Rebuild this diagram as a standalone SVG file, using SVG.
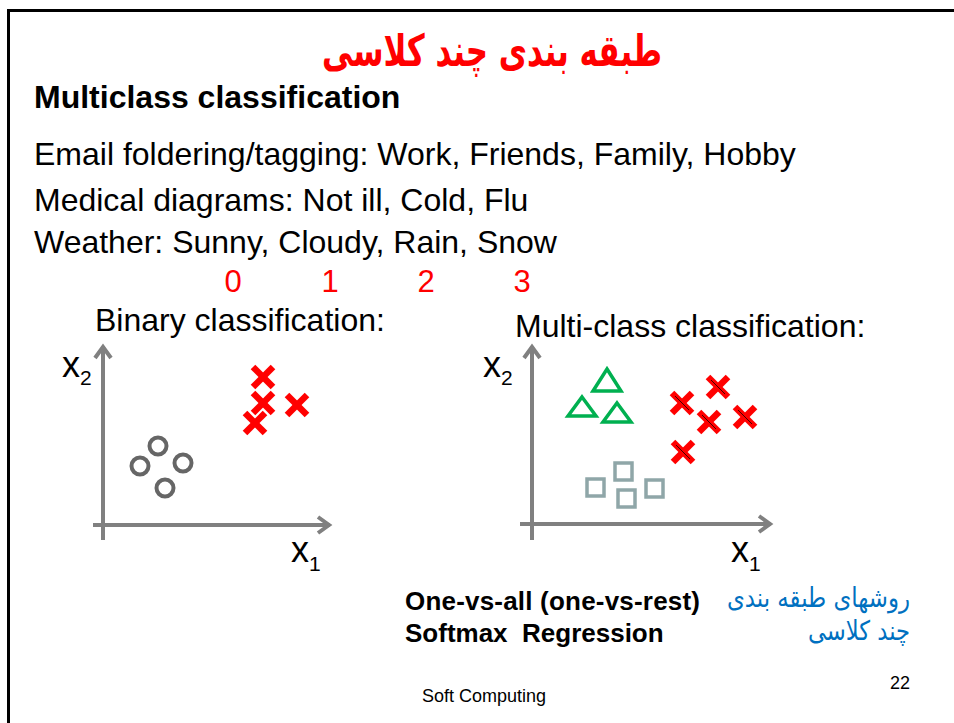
<svg xmlns="http://www.w3.org/2000/svg" width="954" height="723" viewBox="0 0 954 723">
<style>
.t{font-family:"Liberation Sans",Arial,sans-serif;fill:#000}
.fa{font-family:"DejaVu Sans","Noto Sans",sans-serif}
.ax{stroke:#808080;stroke-width:4;fill:none}
.ah{stroke:#808080;stroke-width:4;fill:none;stroke-linecap:butt}
.circ{fill:none;stroke:#666;stroke-width:4}
.tri{fill:none;stroke:#00b050;stroke-width:3.5}
.sq{fill:none;stroke:#8fa6a8;stroke-width:3.5}
.cross{stroke:#ff0000;stroke-width:6.5;stroke-linecap:butt}
.thin{stroke:#400;stroke-width:1}
</style>
<defs>
<g id="xm"><line class="cross" x1="-10" y1="-10" x2="10" y2="10"/><line class="cross" x1="10" y1="-10" x2="-10" y2="10"/></g>
<g id="xm2"><line class="cross" x1="-10" y1="-10" x2="10" y2="10"/><line class="cross" x1="10" y1="-10" x2="-10" y2="10"/><line class="thin" x1="-7" y1="-7" x2="7" y2="7"/></g>
</defs>
<rect width="954" height="723" fill="#fff"/>
<path d="M8.5 723 V10.5 H954" fill="none" stroke="#000" stroke-width="3"/>

<g id="title">
<text class="fa" x="492" y="66" font-size="44" font-weight="bold" fill="#ff0000" text-anchor="middle" direction="rtl" textLength="340" lengthAdjust="spacingAndGlyphs">طبقه بندی چند کلاسی</text>
</g>
<g id="heading"><text class="t" x="34" y="108" font-size="32" font-weight="bold">Multiclass classification</text></g>
<g id="examples">
<text class="t" x="34" y="165" font-size="32">Email foldering/tagging: Work, Friends, Family, Hobby</text>
<text class="t" x="34" y="211" font-size="32">Medical diagrams: Not ill, Cold, Flu</text>
<text class="t" x="34" y="253" font-size="32">Weather: Sunny, Cloudy, Rain, Snow</text>
</g>
<g id="labels" class="t" font-size="31" text-anchor="middle">
<text x="233" y="292" fill="#ff0000">0</text>
<text x="330" y="292" fill="#ff0000">1</text>
<text x="426" y="292" fill="#ff0000">2</text>
<text x="522" y="292" fill="#ff0000">3</text>
</g>

<g id="binary">
<text class="t" x="95" y="331" font-size="32">Binary classification:</text>
<line class="ax" x1="103" y1="540" x2="103" y2="346"/>
<polyline class="ah" points="95,358 103,347 111,358"/>
<line class="ax" x1="93" y1="525" x2="330" y2="525"/>
<polyline class="ah" points="318,517 329,525 318,533"/>
<text class="t" x="62" y="377" font-size="36">x<tspan font-size="21" dy="8">2</tspan></text>
<text class="t" x="291" y="562" font-size="36">x<tspan font-size="21" dy="9">1</tspan></text>
<circle class="circ" cx="140" cy="466" r="8.5"/>
<circle class="circ" cx="158" cy="446" r="8.5"/>
<circle class="circ" cx="183" cy="463" r="8.5"/>
<circle class="circ" cx="165" cy="488" r="8.5"/>
<use href="#xm" x="263" y="377"/>
<use href="#xm" x="263" y="403"/>
<use href="#xm" x="255" y="423"/>
<use href="#xm" x="297" y="405"/>
</g>

<g id="multiclass">
<text class="t" x="515" y="337" font-size="32">Multi-class classification:</text>
<line class="ax" x1="532" y1="540" x2="532" y2="346"/>
<polyline class="ah" points="524,358 532,347 540,358"/>
<line class="ax" x1="520" y1="524" x2="771" y2="524"/>
<polyline class="ah" points="759,516 770,524 759,532"/>
<text class="t" x="483" y="377" font-size="36">x<tspan font-size="21" dy="8">2</tspan></text>
<text class="t" x="731" y="562" font-size="36">x<tspan font-size="21" dy="9">1</tspan></text>
<polygon class="tri" points="607,369 621,391 593,391"/>
<polygon class="tri" points="582,397 596,416 568,416"/>
<polygon class="tri" points="617,403 631,422 603,422"/>
<rect class="sq" x="587" y="479" width="17" height="17"/>
<rect class="sq" x="615" y="463" width="17" height="17"/>
<rect class="sq" x="618" y="490" width="17" height="17"/>
<rect class="sq" x="646" y="480" width="17" height="17"/>
<use href="#xm2" x="682" y="403"/>
<use href="#xm2" x="718" y="387"/>
<use href="#xm2" x="709" y="422"/>
<use href="#xm2" x="745" y="417"/>
<use href="#xm2" x="683" y="452"/>
</g>

<g id="methods">
<text class="t" x="405" y="610" font-size="26" font-weight="bold" textLength="295">One-vs-all (one-vs-rest)</text>
<text class="t" x="405" y="642" font-size="26" font-weight="bold" xml:space="preserve">Softmax  Regression</text>
<text class="fa" x="910" y="607" font-size="27" fill="#0070c0" text-anchor="start" direction="rtl" textLength="183" lengthAdjust="spacingAndGlyphs">روشهای طبقه بندی</text>
<text class="fa" x="910" y="640" font-size="27" fill="#0070c0" text-anchor="start" direction="rtl" textLength="102" lengthAdjust="spacingAndGlyphs">چند کلاسی</text>
</g>
<g id="footer">
<text class="t" x="910" y="689" font-size="18" text-anchor="end">22</text>
<text class="t" x="484" y="702" font-size="18" text-anchor="middle">Soft Computing</text>
</g>
</svg>
